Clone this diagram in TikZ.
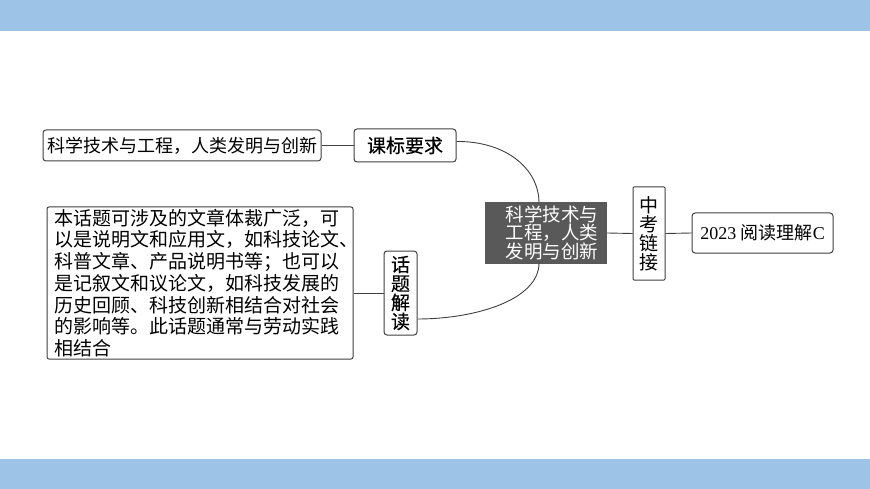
\documentclass[tikz,border=0pt]{standalone}
\usepackage{fontspec}
\setmainfont{Liberation Serif}
\newfontfamily\cjk{Noto Sans CJK SC}
\newfontfamily\cjkb[FakeBold=0.3]{Noto Sans CJK SC}
\usetikzlibrary{calc}
\definecolor{barblue}{HTML}{9DC3E6}
\definecolor{darkbox}{HTML}{595959}
\definecolor{linegray}{HTML}{404040}
\tikzset{
  box/.style={draw=linegray, line width=1pt, rounded corners=3pt, fill=white, inner sep=0pt, text=black},
  conn/.style={draw=linegray, line width=0.9pt},
}
\begin{document}
\begin{tikzpicture}[x=1pt,y=-1pt]
\useasboundingbox (0,0) rectangle (870,489);
\fill[white] (0,0) rectangle (870,489);
\fill[barblue] (0,0) rectangle (870,31);
\fill[barblue] (0,459) rectangle (870,489);

\coordinate (cu) at (539,203);
\coordinate (cl) at (539,263);

\node[box, minimum width=278pt, minimum height=31pt, font=\cjk\fontsize{18}{20}\selectfont] (t1) at (182,145.5)
  {科学技术与工程，人类发明与创新};
\node[box, minimum width=102pt, minimum height=33pt, font=\cjkb\fontsize{19}{20}\selectfont] (kb) at (405,145.5)
  {课标要求};
\node[box, rounded corners=2pt, minimum width=306pt, minimum height=152pt, text width=292pt, align=left, font=\cjk\fontsize{19}{21.7}\selectfont] (big) at (200,283)
  {本话题可涉及的文章体裁广泛，可\\以是说明文和应用文，如科技论文、\\科普文章、产品说明书等；也可以\\是记叙文和议论文，如科技发展的\\历史回顾、科技创新相结合对社会\\的影响等。此话题通常与劳动实践\\相结合};
\node[box, minimum width=33pt, minimum height=84pt, align=center, font=\cjkb\fontsize{19}{19}\selectfont] (ht) at (400.5,293)
  {话\\题\\解\\读};
\node[fill=darkbox, inner sep=0pt, minimum width=122pt, minimum height=61pt, text=white, align=center, font=\cjk\fontsize{18.5}{16.5}\selectfont] (c) at (546,233)
  {\hspace*{12pt}科学技术与\\\hspace*{12pt}工程，人类\\\hspace*{12pt}发明与创新};
\node[box, rounded corners=1pt, minimum width=32pt, minimum height=93pt, align=center, font=\cjk\fontsize{19}{19}\selectfont] (zk) at (649,233.5)
  {中\\考\\链\\接};
\node[box, minimum width=141pt, minimum height=40pt, font=\fontsize{18}{20}\selectfont] (r) at (762.5,233)
  {2023 {\cjk 阅读理解}C};

\draw[conn] (t1.east) -- (kb.west);
\draw[conn] (big.east |- ht.west) -- (ht.west);
\draw[conn] (c.east) -- (zk.west);
\draw[conn] (zk.east) -- (r.west);
\draw[conn] ($(kb.east)+(0,-4)$) .. controls (505,141) and (539,168) .. (cu);
\draw[conn] (cl) .. controls (539,300) and (475,319) .. ($(ht.east)+(0,26)$);
\end{tikzpicture}
\end{document}
